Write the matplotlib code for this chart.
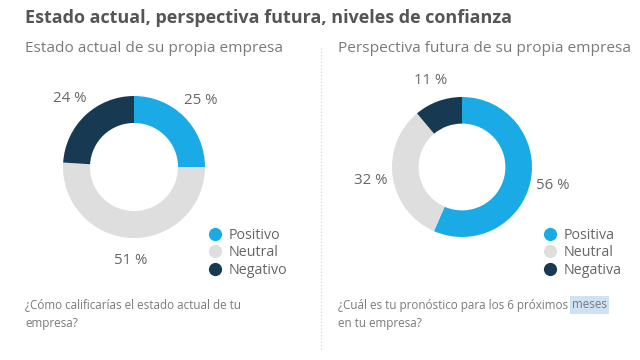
import numpy as np
import matplotlib
matplotlib.use("Agg")
import matplotlib.pyplot as plt
from matplotlib.lines import Line2D

plt.rcParams['font.family'] = ['Open Sans', 'DejaVu Sans']

# datos
titulo = "Estado actual, perspectiva futura, niveles de confianza"
sub_izq = "Estado actual de su propia empresa"
sub_der = "Perspectiva futura de su propia empresa"
cats_izq = ["Positivo", "Neutral", "Negativo"]
vals_izq = [25, 51, 24]
cats_der = ["Positiva", "Neutral", "Negativa"]
vals_der = [56, 32, 11]
colores = ["#1aabe6", "#dedede", "#173a52"]
preg_izq_1 = "¿Cómo calificarías el estado actual de tu"
preg_izq_2 = "empresa?"
preg_der_1 = "¿Cuál es tu pronóstico para los 6 próximos"
preg_der_resalto = "meses"
preg_der_2 = "en tu empresa?"

W, H = 640, 360
fig = plt.figure(figsize=(6.4, 3.6), dpi=100)
fig.patch.set_facecolor("white")

def px(x, y):
    # pixeles (desde arriba a la izquierda) a fraccion de figura
    return x / W, 1 - y / H

def dona(cx, cy, r, vals):
    ax = fig.add_axes([(cx - r) / W, 1 - (cy + r) / H, 2 * r / W, 2 * r / H])
    wedges, _ = ax.pie(vals, colors=colores, startangle=90, counterclock=False,
                       wedgeprops=dict(width=0.38, edgecolor="none"))
    ax.set_xlim(-1, 1)
    ax.set_ylim(-1, 1)
    ax.axis("off")
    for w, v in zip(wedges, vals):
        ang = np.deg2rad((w.theta1 + w.theta2) / 2)
        ax.text(1.32 * np.cos(ang), 1.32 * np.sin(ang), f"{v} %", ha="center", va="center",
                fontsize=10.8, color="#666666", clip_on=False)
    return ax

dona(134, 167, 71, vals_izq)
dona(462, 167, 70, vals_der)

# leyendas
for x, cats in [(209, cats_izq), (544, cats_der)]:
    handles = [Line2D([], [], marker="o", linestyle="none", markersize=9.5,
                      markerfacecolor=c, markeredgecolor="none") for c in colores]
    fig.legend(handles, cats, loc="upper left", bbox_to_anchor=px(x, 228), frameon=False,
               fontsize=10.3, labelcolor="#666666", handlelength=0.9, handletextpad=0.45,
               labelspacing=0.16, borderpad=0, borderaxespad=0)

# textos
fs_q = 8.4
fig.text(*px(25, 18), titulo, fontsize=13, fontweight="bold", color="#555555", va="center")
fig.text(*px(25, 49), sub_izq, fontsize=11.1, color="#7a7a7a", va="center")
fig.text(*px(338, 49), sub_der, fontsize=11.1, color="#7a7a7a", va="center")
fig.text(*px(25, 305), preg_izq_1, fontsize=fs_q, color="#7a7a7a", va="center")
fig.text(*px(25, 323), preg_izq_2, fontsize=fs_q, color="#7a7a7a", va="center")

t1 = fig.text(*px(338, 305), preg_der_1, fontsize=fs_q, color="#7a7a7a", va="center")
fig.canvas.draw()
ext = t1.get_window_extent()
fig.text((ext.x1 + 4) / W, 1 - 305 / H, preg_der_resalto, fontsize=fs_q, color="#7a7a7a",
         va="center", bbox=dict(boxstyle="square,pad=0.2", facecolor="#cfe2f5", edgecolor="none"))
fig.text(*px(338, 323), preg_der_2, fontsize=fs_q, color="#7a7a7a", va="center")

# separador punteado
fig.add_artist(Line2D([321 / W, 321 / W], [1 - 48 / H, 1 - 350 / H], color="#cccccc",
                      linestyle=(0, (1, 2)), linewidth=0.8, transform=fig.transFigure))

fig.savefig("out.png", dpi=100, facecolor="white")
